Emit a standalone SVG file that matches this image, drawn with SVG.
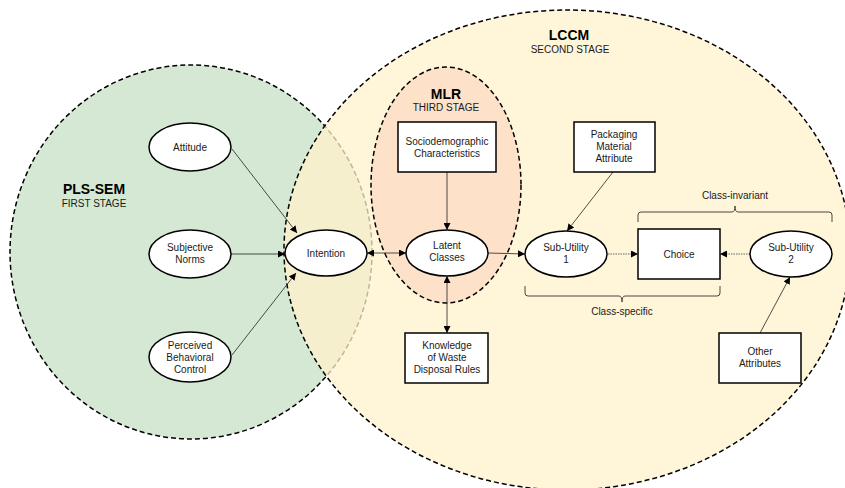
<svg xmlns="http://www.w3.org/2000/svg" width="845" height="488" viewBox="0 0 845 488">
<defs>
<marker id="ah" viewBox="0 0 10 10" refX="10" refY="5" markerWidth="7" markerHeight="7" orient="auto-start-reverse" markerUnits="userSpaceOnUse">
<path d="M0,0 L10,5 L0,10 z" fill="#000"/>
</marker>
<style>
text{font-family:"Liberation Sans",Arial,sans-serif;fill:#1a1a1a;text-anchor:middle}
.t{font-size:10px}
.h{font-size:14px;font-weight:bold;fill:#000}
.s{font-size:10px}
.node{fill:#fff;stroke:#000;stroke-width:1.5}
.stage{stroke:#000;stroke-width:1.5;stroke-dasharray:5,3}
.c{fill:none;stroke:#222;stroke-width:0.8}
.d{fill:none;stroke:#555;stroke-width:0.9;stroke-dasharray:1.5,1}
.br{fill:none;stroke:#333;stroke-width:0.9}
</style>
</defs>
<g id="stages">
<g id="pls-sem">
<ellipse class="stage" cx="191" cy="252" rx="181" ry="187" fill="#d5e8d4"/>
<text class="h" x="94" y="194">PLS-SEM</text>
<text class="s" x="94" y="207">FIRST STAGE</text>
</g>
<g id="lccm">
<ellipse class="stage" cx="567" cy="250" rx="283" ry="240" fill="#fff2cc" fill-opacity="0.75"/>
<text class="h" x="569" y="40">LCCM</text>
<text class="s" x="570" y="53">SECOND STAGE</text>
</g>
<g id="mlr">
<ellipse class="stage" cx="446" cy="185" rx="75" ry="118" fill="#fde1c9"/>
<text class="h" x="446" y="99">MLR</text>
<text class="s" x="446" y="111">THIRD STAGE</text>
</g>
</g>
<g id="connectors">
<line class="c" x1="232" y1="149" x2="297" y2="233" marker-end="url(#ah)"/>
<line class="c" x1="231" y1="254" x2="285" y2="254" marker-end="url(#ah)"/>
<line class="c" x1="232" y1="355" x2="296" y2="273" marker-end="url(#ah)"/>
<line class="c" x1="367" y1="253" x2="406" y2="253" marker-start="url(#ah)" marker-end="url(#ah)"/>
<line class="c" x1="488" y1="253" x2="525" y2="254" marker-end="url(#ah)"/>
<line class="c" x1="447" y1="172" x2="447" y2="230" marker-end="url(#ah)"/>
<line class="c" x1="447" y1="276" x2="447" y2="333" marker-start="url(#ah)" marker-end="url(#ah)"/>
<line class="c" x1="613" y1="172" x2="567" y2="231" marker-end="url(#ah)"/>
<line class="d" x1="608" y1="254" x2="638" y2="254" marker-end="url(#ah)"/>
<line class="d" x1="750" y1="254" x2="720" y2="254" marker-end="url(#ah)"/>
<line class="c" x1="760" y1="333" x2="790" y2="277" marker-end="url(#ah)"/>
<path class="br" d="M638,222 L638,215 Q638,212 641,212 L732,212 Q735,212 735,206 Q735,212 738,212 L829,212 Q832,212 832,215 L832,222"/>
<text class="t" x="735" y="199">Class-invariant</text>
<path class="br" d="M525,286 L525,293 Q525,296 528,296 L619,296 Q622,296 622,302 Q622,296 625,296 L717,296 Q720,296 720,293 L720,286"/>
<text class="t" x="622" y="315">Class-specific</text>
</g>
<g id="attitude"><ellipse class="node" cx="190" cy="147" rx="41" ry="24"/><text class="t" x="190" y="151">Attitude</text></g>
<g id="subjective-norms"><ellipse class="node" cx="190" cy="254" rx="41" ry="24"/><text class="t" x="190" y="251">Subjective</text><text class="t" x="190" y="263">Norms</text></g>
<g id="pbc"><ellipse class="node" cx="190" cy="357" rx="41" ry="25"/><text class="t" x="190" y="349">Perceived</text><text class="t" x="190" y="361">Behavioral</text><text class="t" x="190" y="373">Control</text></g>
<g id="intention"><ellipse class="node" cx="326" cy="253" rx="41" ry="23"/><text class="t" x="326" y="257">Intention</text></g>
<g id="latent-classes"><ellipse class="node" cx="447" cy="253" rx="41" ry="23"/><text class="t" x="447" y="249">Latent</text><text class="t" x="447" y="261">Classes</text></g>
<g id="sub-utility-1"><ellipse class="node" cx="566" cy="254" rx="41" ry="23"/><text class="t" x="566" y="251">Sub-Utility</text><text class="t" x="566" y="263">1</text></g>
<g id="choice"><rect class="node" x="638" y="229" width="82" height="50"/><text class="t" x="679" y="258">Choice</text></g>
<g id="sub-utility-2"><ellipse class="node" cx="791" cy="254" rx="41" ry="23"/><text class="t" x="791" y="251">Sub-Utility</text><text class="t" x="791" y="263">2</text></g>
<g id="sociodemographic"><rect class="node" x="398" y="122" width="98" height="50"/><text class="t" x="447" y="145">Sociodemographic</text><text class="t" x="447" y="157">Characteristics</text></g>
<g id="packaging"><rect class="node" x="574" y="122" width="81" height="50"/><text class="t" x="614" y="138">Packaging</text><text class="t" x="614" y="150">Material</text><text class="t" x="614" y="162">Attribute</text></g>
<g id="knowledge"><rect class="node" x="405" y="333" width="83" height="50"/><text class="t" x="447" y="349">Knowledge</text><text class="t" x="447" y="361">of Waste</text><text class="t" x="447" y="373">Disposal Rules</text></g>
<g id="other-attributes"><rect class="node" x="719" y="333" width="82" height="50"/><text class="t" x="760" y="355">Other</text><text class="t" x="760" y="367">Attributes</text></g>
</svg>
